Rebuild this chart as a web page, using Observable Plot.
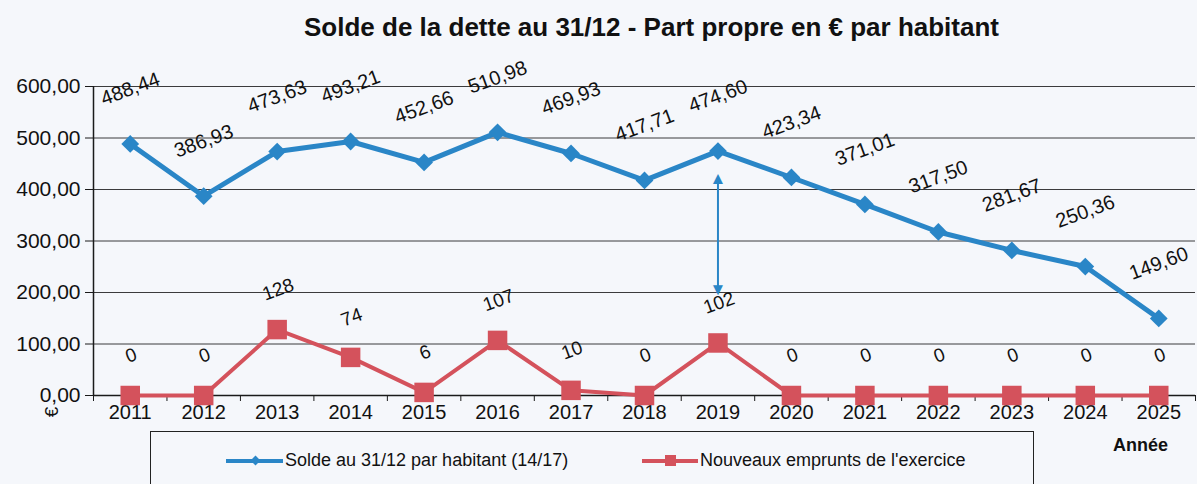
<!DOCTYPE html>
<html>
<head>
<meta charset="utf-8">
<script src="https://cdn.jsdelivr.net/npm/d3@7"></script>
<script src="https://cdn.jsdelivr.net/npm/@observablehq/plot@0.6"></script>
<style>
  html, body { margin: 0; padding: 0; background: #f5f7fb; }
  #page { position: relative; width: 1197px; height: 484px; overflow: hidden; font-family: "Liberation Sans", Arial, sans-serif; color: #111; }
  #title { height: 56px; box-sizing: border-box; padding-left: 106px; padding-top: 12px; text-align: center; font-weight: bold; font-size: 26px; line-height: 30px; }
  #legend { position: absolute; left: 150px; top: 431px; width: 884px; height: 70px; border: 1.5px solid #222; box-sizing: border-box; }
  .item { position: absolute; top: 18px; font-size: 18px; line-height: 21px; white-space: nowrap; }
  .swatch { position: absolute; top: 27px; height: 4px; }
  #annee { position: absolute; left: 1113px; top: 435px; font-weight: bold; font-size: 18px; }
  #euro { position: absolute; left: 47px; top: 402px; font-size: 19px; line-height: 20px; transform: rotate(-90deg); }
</style>
</head>
<body>
<div id="page">
  <div id="title">Solde de la dette au 31/12 - Part propre en € par habitant</div>
  <div id="chart"></div>
  <div id="euro">€</div>
  <div id="annee">Année</div>
  <div id="legend"></div>
</div>
<script>
// ---- data ----
const years = [2011, 2012, 2013, 2014, 2015, 2016, 2017, 2018, 2019, 2020, 2021, 2022, 2023, 2024, 2025];
const solde = [488.44, 386.93, 473.63, 493.21, 452.66, 510.98, 469.93, 417.71, 474.60, 423.34, 371.01, 317.50, 281.67, 250.36, 149.60];
const emprunts = [0, 0, 128, 74, 6, 107, 10, 0, 102, 0, 0, 0, 0, 0, 0];
const yTicks = [0, 100, 200, 300, 400, 500, 600];
const seriesNames = ["Solde au 31/12 par habitant (14/17)", "Nouveaux emprunts de l'exercice"];
const arrowYear = 2019;
const arrowTop = 431;
const arrowBottom = 200;

const BLUE = "#2a86c7";
const RED = "#d4525c";
const fmt = d => d.toFixed(2).replace(".", ",");

const table = years.map((y, i) => ({year: y, solde: solde[i], emprunts: emprunts[i]}));
const bounds = [years[0] - 0.5, ...years.map(y => y + 0.5)];

const chart = Plot.plot({
  width: 1197,
  height: 375,
  marginLeft: 93,
  marginRight: 2,
  marginTop: 30,
  marginBottom: 36,
  style: {background: "transparent", fontFamily: "'Liberation Sans', Arial, sans-serif", color: "#111", overflow: "visible"},
  x: {type: "linear", domain: [bounds[0], bounds[bounds.length - 1]]},
  y: {domain: [0, 600]},
  marks: [
    Plot.gridY(yTicks, {stroke: "#1a1a1a", strokeOpacity: 0.85, strokeWidth: 1}),
    Plot.axisY(yTicks, {tickFormat: fmt, fontSize: 21, tickSize: 8, tickPadding: 5, label: null, stroke: "#1a1a1a"}),
    Plot.axisX(bounds, {tickFormat: () => "", tickSize: 6, label: null, stroke: "#1a1a1a"}),
    Plot.axisX(years, {tickFormat: d => String(d), tickSize: 0, tickPadding: 9, fontSize: 20, label: null}),
    Plot.ruleX([bounds[0]], {stroke: "#1a1a1a", strokeWidth: 1.5}),
    Plot.ruleY([0], {stroke: "#1a1a1a", strokeWidth: 1.5}),
    // arrow
    Plot.link([{x: arrowYear, y1: arrowTop - 12, y2: arrowBottom + 12}], {x1: "x", x2: "x", y1: "y1", y2: "y2", stroke: BLUE, strokeWidth: 2}),
    Plot.text([{x: arrowYear, y: arrowTop}], {x: "x", y: "y", text: () => "▲", fill: BLUE, fontSize: 17, lineAnchor: "top", dy: -2}),
    Plot.text([{x: arrowYear, y: arrowBottom}], {x: "x", y: "y", text: () => "▼", fill: BLUE, fontSize: 17, lineAnchor: "bottom", dy: 2}),
    // red series
    Plot.line(table, {x: "year", y: "emprunts", stroke: RED, strokeWidth: 4}),
    Plot.dot(table, {x: "year", y: "emprunts", symbol: "square", r: 11, fill: RED, stroke: "none"}),
    Plot.text(table, {x: "year", y: "emprunts", text: d => String(d.emprunts), rotate: -20, dy: -40, dx: 1, fontSize: 19, fill: "#111"}),
    // blue series
    Plot.line(table, {x: "year", y: "solde", stroke: BLUE, strokeWidth: 5}),
    Plot.dot(table, {x: "year", y: "solde", symbol: "diamond2", r: 8, fill: BLUE, stroke: "none"}),
    Plot.text(table, {x: "year", y: "solde", text: d => fmt(d.solde), rotate: -20, dy: -55, dx: 0, fontSize: 20, fill: "#111"})
  ]
});
document.getElementById("chart").appendChild(chart);

// legend
const legend = document.getElementById("legend");
const items = [
  {name: seriesNames[0], color: BLUE, left: 75, textLeft: 134, marker: "diamond"},
  {name: seriesNames[1], color: RED, left: 491, textLeft: 549, marker: "square"}
];
for (const it of items) {
  const sw = document.createElement("div");
  sw.className = "swatch";
  sw.style.left = it.left + "px";
  sw.style.width = (it.textLeft - it.left - 2) + "px";
  sw.style.background = it.color;
  legend.appendChild(sw);
  const mk = document.createElement("div");
  mk.style.position = "absolute";
  mk.style.background = it.color;
  const mid = it.left + (it.textLeft - it.left) / 2;
  if (it.marker === "diamond") {
    mk.style.width = "7px"; mk.style.height = "7px";
    mk.style.left = (mid - 4) + "px"; mk.style.top = "25px";
    mk.style.transform = "rotate(45deg)";
  } else {
    mk.style.width = "11px"; mk.style.height = "11px";
    mk.style.left = (mid - 6) + "px"; mk.style.top = "23px";
  }
  legend.appendChild(mk);
  const tx = document.createElement("div");
  tx.className = "item";
  tx.style.left = it.textLeft + "px";
  tx.textContent = it.name;
  legend.appendChild(tx);
}
</script>
</body>
</html>
